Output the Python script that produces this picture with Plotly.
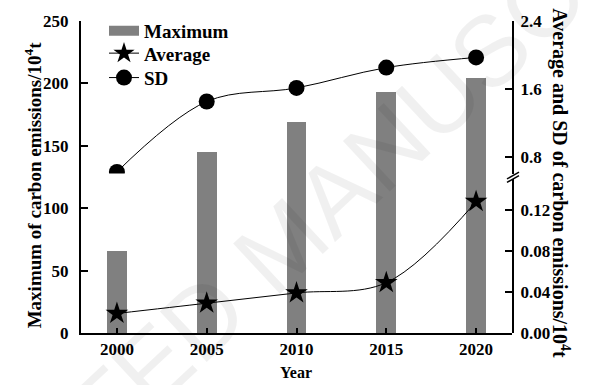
import plotly.graph_objects as go

# Carbon emissions by year
years = [2000, 2005, 2010, 2015, 2020]
maximum = [66, 145, 169, 193, 204]             # 10^4 t, left axis
average = [0.019, 0.029, 0.039, 0.049, 0.128]  # 10^4 t, right axis (lower part)
sd = [0.62, 1.45, 1.61, 1.85, 1.97]            # 10^4 t, right axis (upper part)

left_ticks = [0, 50, 100, 150, 200, 250]
low_ticks = [0.00, 0.04, 0.08, 0.12]
high_ticks = [0.8, 1.6, 2.4]

W, H = 590, 385
PL, PR, PT, PB = 81, 512, 14, 333   # plot area in pixels


def px_x(p):
    return (p - PL) / (PR - PL)


def px_y(p):
    return (PB - p) / (PB - PT)


SERIF = "Liberation Serif"
tick_font = dict(family=SERIF, size=17, color="black", weight="bold")
BAR = "#808080"

fig = go.Figure()

fig.add_trace(go.Bar(
    x=years, y=maximum, name="Maximum", marker=dict(color=BAR, line=dict(width=0)),
    width=1.1, xaxis="x", yaxis="y", showlegend=False, legendgroup="max",
))
# legend swatch for the bars
fig.add_trace(go.Scatter(
    x=[None], y=[None], mode="lines", name="Maximum", legendgroup="max",
    line=dict(color=BAR, width=13), xaxis="x", yaxis="y", legend="legend",
))
fig.add_trace(go.Scatter(
    x=years, y=average, name="Average", mode="lines+markers",
    line=dict(color="black", width=1, shape="spline", smoothing=1),
    marker=dict(symbol="star", size=17, color="black"),
    xaxis="x", yaxis="y2", legendgroup="avg", legend="legend2",
))
fig.add_trace(go.Scatter(
    x=years, y=sd, name="SD", mode="lines+markers",
    line=dict(color="black", width=1, shape="spline", smoothing=1),
    marker=dict(symbol="circle", size=16, color="black"),
    xaxis="x", yaxis="y3", legendgroup="sd", legend="legend3",
))

axis_common = dict(
    showline=True, linecolor="black", linewidth=2, ticks="inside",
    tickcolor="black", tickwidth=2, showgrid=False, zeroline=False,
    tickfont=tick_font,
)

low_top = 175.5
high_bottom = 170


def legend_row(center_px):
    return dict(
        x=px_x(104), y=px_y(center_px), xanchor="left", yanchor="middle",
        bgcolor="rgba(0,0,0,0)", borderwidth=0,
        font=dict(family=SERIF, size=19, color="black", weight="bold"),
        itemwidth=30,
    )


fig.update_layout(
    width=W, height=H,
    margin=dict(l=PL, r=W - PR, t=PT, b=H - PB),
    paper_bgcolor="white", plot_bgcolor="rgba(0,0,0,0)",
    bargap=0,
    xaxis=dict(range=[1998, 2022], tickvals=years, ticklen=5,
               ticklabelstandoff=0, anchor="y", **axis_common),
    yaxis=dict(range=[0, 250], tickvals=left_ticks, ticklen=7, domain=[0, 1],
               ticklabelstandoff=7, anchor="x", **axis_common),
    yaxis2=dict(range=[0, 0.15], tickvals=low_ticks, tickformat=".2f", ticklen=7,
                domain=[0, px_y(low_top)], side="right", anchor="x",
                ticklabelstandoff=3, **axis_common),
    yaxis3=dict(range=[0.6, 2.4], tickvals=high_ticks, tickformat=".1f", ticklen=7,
                domain=[px_y(high_bottom), 1], side="right", anchor="x",
                ticklabelstandoff=3, **axis_common),
    legend=legend_row(24),
    legend2=legend_row(47),
    legend3=legend_row(72),
    showlegend=True,
)

# axis break marks on the right axis
for off in (0, 3.5):
    fig.add_shape(type="line", xref="paper", yref="paper",
                  x0=px_x(507), y0=px_y(179 - off), x1=px_x(519), y1=px_y(172 - off),
                  line=dict(color="black", width=1.5))

title_font = dict(family=SERIF, size=19, color="black", weight="bold")
fig.add_annotation(
    text="Maximum of carbon emissions/10<sup>4</sup>t", textangle=-90,
    xref="paper", yref="paper", x=px_x(33), y=px_y(182),
    xanchor="center", yanchor="middle",
    showarrow=False, font=title_font,
)
fig.add_annotation(
    text="Average and SD of carbon emissions/10<sup>4</sup>t", textangle=90,
    xref="paper", yref="paper", x=px_x(561), y=px_y(180),
    xanchor="center", yanchor="middle",
    showarrow=False, font=dict(family=SERIF, size=20, color="black", weight="bold"),
)
fig.add_annotation(
    text="Year", xref="paper", yref="paper", x=px_x(296), y=px_y(373),
    xanchor="center", yanchor="middle",
    showarrow=False, font=dict(family=SERIF, size=16, color="black", weight="bold"),
)

# faint diagonal watermark
fig.add_annotation(
    text="ACCEPTED MANUSCRIPT", textangle=-43,
    xref="paper", yref="paper", x=px_x(282), y=px_y(242),
    xanchor="center", yanchor="middle",
    showarrow=False,
    font=dict(family="Liberation Sans", size=100, color="rgba(0,0,0,0.06)"),
)

fig.write_html("out.html")
